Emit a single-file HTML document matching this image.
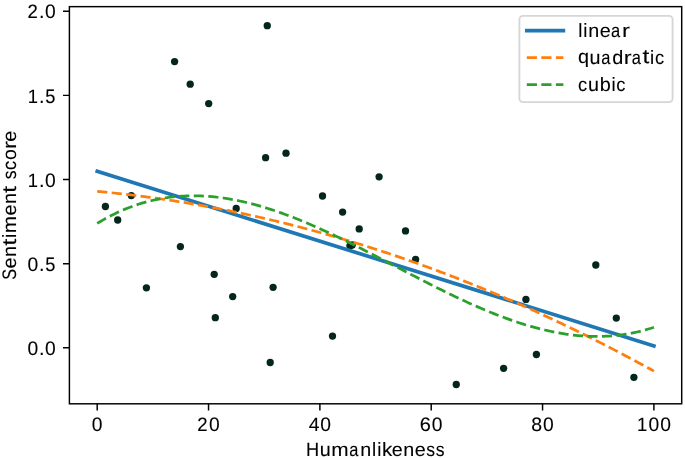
<!DOCTYPE html>
<html><head><meta charset="utf-8"><style>
html,body{margin:0;padding:0;background:#fff;}
body{width:685px;height:458px;overflow:hidden;font-family:"Liberation Sans",sans-serif;}
svg{display:block;will-change:transform;}text{text-rendering:geometricPrecision;}
</style></head><body>
<svg width="685" height="458" viewBox="0 0 685 458">
<rect width="685" height="458" fill="#fff"/>
<g fill="#04261d">
<circle cx="105.4" cy="206.5" r="3.65"/>
<circle cx="117.7" cy="220" r="3.65"/>
<circle cx="131.3" cy="195.6" r="3.65"/>
<circle cx="146.4" cy="287.8" r="3.65"/>
<circle cx="174.6" cy="61.6" r="3.65"/>
<circle cx="180.4" cy="246.6" r="3.65"/>
<circle cx="190.2" cy="84.2" r="3.65"/>
<circle cx="208.7" cy="103.6" r="3.65"/>
<circle cx="214.2" cy="274.3" r="3.65"/>
<circle cx="215.3" cy="317.7" r="3.65"/>
<circle cx="232.7" cy="296.6" r="3.65"/>
<circle cx="236.2" cy="208.5" r="3.65"/>
<circle cx="265.6" cy="157.7" r="3.65"/>
<circle cx="267.26" cy="25.7" r="3.65"/>
<circle cx="270.2" cy="362.5" r="3.65"/>
<circle cx="273.1" cy="287.3" r="3.65"/>
<circle cx="286" cy="153.2" r="3.65"/>
<circle cx="322.5" cy="196" r="3.65"/>
<circle cx="332.5" cy="336.1" r="3.65"/>
<circle cx="342.6" cy="212.1" r="3.65"/>
<circle cx="349.9" cy="245.8" r="3.65"/>
<circle cx="352.2" cy="245" r="3.65"/>
<circle cx="359.2" cy="228.9" r="3.65"/>
<circle cx="379.1" cy="176.8" r="3.65"/>
<circle cx="405.5" cy="230.9" r="3.65"/>
<circle cx="415.6" cy="259.5" r="3.65"/>
<circle cx="456.26" cy="384.5" r="3.65"/>
<circle cx="503.6" cy="368.3" r="3.65"/>
<circle cx="525.9" cy="299.4" r="3.65"/>
<circle cx="536.4" cy="354.5" r="3.65"/>
<circle cx="595.8" cy="265" r="3.65"/>
<circle cx="616.3" cy="318.1" r="3.65"/>
<circle cx="633.9" cy="377.3" r="3.65"/>
</g>
<polyline points="97.2,171.29 653.9,345.93" fill="none" stroke="#1f77b4" stroke-width="3.66" stroke-linecap="square" stroke-linejoin="round"/>
<polyline points="97.2,191.31 100,191.58 102.79,191.85 105.59,192.12 108.39,192.4 111.19,192.69 113.98,192.99 116.78,193.29 119.58,193.6 122.38,193.91 125.17,194.23 127.97,194.56 130.77,194.89 133.57,195.24 136.36,195.58 139.16,195.94 141.96,196.3 144.76,196.66 147.55,197.04 150.35,197.41 153.15,197.8 155.95,198.19 158.74,198.59 161.54,199 164.34,199.41 167.14,199.83 169.93,200.25 172.73,200.68 175.53,201.12 178.33,201.56 181.12,202.02 183.92,202.47 186.72,202.94 189.52,203.41 192.31,203.88 195.11,204.37 197.91,204.85 200.71,205.35 203.5,205.85 206.3,206.36 209.1,206.88 211.9,207.4 214.69,207.93 217.49,208.46 220.29,209 223.09,209.55 225.88,210.1 228.68,210.67 231.48,211.23 234.28,211.81 237.07,212.39 239.87,212.97 242.67,213.56 245.47,214.16 248.26,214.77 251.06,215.38 253.86,216 256.66,216.63 259.45,217.26 262.25,217.9 265.05,218.54 267.85,219.19 270.64,219.85 273.44,220.51 276.24,221.18 279.04,221.86 281.83,222.55 284.63,223.24 287.43,223.93 290.23,224.63 293.02,225.34 295.82,226.06 298.62,226.78 301.42,227.51 304.21,228.25 307.01,228.99 309.81,229.74 312.61,230.49 315.4,231.25 318.2,232.02 321,232.79 323.8,233.57 326.59,234.36 329.39,235.16 332.19,235.96 334.99,236.76 337.78,237.57 340.58,238.39 343.38,239.22 346.18,240.05 348.97,240.89 351.77,241.74 354.57,242.59 357.37,243.45 360.16,244.31 362.96,245.18 365.76,246.06 368.56,246.94 371.35,247.83 374.15,248.73 376.95,249.64 379.75,250.55 382.54,251.46 385.34,252.38 388.14,253.31 390.94,254.25 393.73,255.19 396.53,256.14 399.33,257.1 402.13,258.06 404.92,259.03 407.72,260 410.52,260.98 413.32,261.97 416.11,262.96 418.91,263.96 421.71,264.97 424.51,265.99 427.3,267.01 430.1,268.03 432.9,269.06 435.7,270.1 438.49,271.15 441.29,272.2 444.09,273.26 446.89,274.33 449.68,275.4 452.48,276.48 455.28,277.56 458.08,278.65 460.87,279.75 463.67,280.85 466.47,281.97 469.27,283.08 472.06,284.21 474.86,285.34 477.66,286.47 480.46,287.62 483.25,288.76 486.05,289.92 488.85,291.08 491.65,292.25 494.44,293.43 497.24,294.61 500.04,295.8 502.84,296.99 505.63,298.19 508.43,299.4 511.23,300.61 514.03,301.84 516.82,303.06 519.62,304.3 522.42,305.54 525.22,306.78 528.01,308.04 530.81,309.29 533.61,310.56 536.41,311.83 539.2,313.11 542,314.4 544.8,315.69 547.6,316.99 550.39,318.29 553.19,319.6 555.99,320.92 558.79,322.24 561.58,323.58 564.38,324.91 567.18,326.26 569.98,327.61 572.77,328.96 575.57,330.33 578.37,331.7 581.17,333.07 583.96,334.45 586.76,335.84 589.56,337.24 592.36,338.64 595.15,340.05 597.95,341.46 600.75,342.88 603.55,344.31 606.34,345.75 609.14,347.19 611.94,348.63 614.74,350.09 617.53,351.55 620.33,353.01 623.13,354.49 625.93,355.97 628.72,357.45 631.52,358.94 634.32,360.44 637.12,361.95 639.91,363.46 642.71,364.98 645.51,366.5 648.31,368.03 651.1,369.57 653.9,371.12" fill="none" stroke="#ff7f0e" stroke-width="2.74" stroke-linecap="butt" stroke-linejoin="round" stroke-dasharray="10.15 4.39"/>
<polyline points="97.2,223.43 100,221.73 102.79,220.1 105.59,218.53 108.39,217.02 111.19,215.56 113.98,214.16 116.78,212.81 119.58,211.53 122.38,210.29 125.17,209.12 127.97,207.99 130.77,206.92 133.57,205.9 136.36,204.94 139.16,204.03 141.96,203.16 144.76,202.35 147.55,201.59 150.35,200.88 153.15,200.22 155.95,199.61 158.74,199.04 161.54,198.52 164.34,198.05 167.14,197.63 169.93,197.25 172.73,196.92 175.53,196.63 178.33,196.38 181.12,196.18 183.92,196.02 186.72,195.91 189.52,195.83 192.31,195.8 195.11,195.81 197.91,195.85 200.71,195.94 203.5,196.07 206.3,196.23 209.1,196.44 211.9,196.67 214.69,196.95 217.49,197.26 220.29,197.61 223.09,198 225.88,198.41 228.68,198.87 231.48,199.35 234.28,199.87 237.07,200.42 239.87,201 242.67,201.62 245.47,202.26 248.26,202.93 251.06,203.64 253.86,204.37 256.66,205.13 259.45,205.92 262.25,206.73 265.05,207.58 267.85,208.45 270.64,209.34 273.44,210.26 276.24,211.2 279.04,212.17 281.83,213.16 284.63,214.17 287.43,215.21 290.23,216.26 293.02,217.34 295.82,218.44 298.62,219.56 301.42,220.7 304.21,221.85 307.01,223.03 309.81,224.22 312.61,225.43 315.4,226.66 318.2,227.9 321,229.16 323.8,230.43 326.59,231.71 329.39,233.01 332.19,234.33 334.99,235.65 337.78,236.99 340.58,238.34 343.38,239.7 346.18,241.07 348.97,242.45 351.77,243.84 354.57,245.24 357.37,246.65 360.16,248.06 362.96,249.49 365.76,250.91 368.56,252.35 371.35,253.79 374.15,255.23 376.95,256.68 379.75,258.13 382.54,259.59 385.34,261.04 388.14,262.5 390.94,263.96 393.73,265.42 396.53,266.89 399.33,268.35 402.13,269.81 404.92,271.27 407.72,272.73 410.52,274.18 413.32,275.63 416.11,277.08 418.91,278.52 421.71,279.96 424.51,281.4 427.3,282.82 430.1,284.24 432.9,285.66 435.7,287.07 438.49,288.46 441.29,289.85 444.09,291.23 446.89,292.6 449.68,293.96 452.48,295.31 455.28,296.65 458.08,297.98 460.87,299.29 463.67,300.59 466.47,301.88 469.27,303.15 472.06,304.4 474.86,305.65 477.66,306.87 480.46,308.08 483.25,309.27 486.05,310.45 488.85,311.6 491.65,312.74 494.44,313.86 497.24,314.95 500.04,316.03 502.84,317.09 505.63,318.12 508.43,319.13 511.23,320.12 514.03,321.09 516.82,322.03 519.62,322.95 522.42,323.84 525.22,324.71 528.01,325.55 530.81,326.37 533.61,327.15 536.41,327.91 539.2,328.64 542,329.35 544.8,330.02 547.6,330.66 550.39,331.27 553.19,331.85 555.99,332.4 558.79,332.92 561.58,333.4 564.38,333.86 567.18,334.27 569.98,334.65 572.77,335 575.57,335.31 578.37,335.59 581.17,335.83 583.96,336.03 586.76,336.19 589.56,336.31 592.36,336.4 595.15,336.45 597.95,336.45 600.75,336.42 603.55,336.34 606.34,336.22 609.14,336.06 611.94,335.86 614.74,335.61 617.53,335.32 620.33,334.99 623.13,334.61 625.93,334.18 628.72,333.71 631.52,333.19 634.32,332.62 637.12,332.01 639.91,331.34 642.71,330.63 645.51,329.87 648.31,329.05 651.1,328.19 653.9,327.28" fill="none" stroke="#2ca02c" stroke-width="2.74" stroke-linecap="butt" stroke-linejoin="round" stroke-dasharray="10.15 4.39"/>
<rect x="69.4" y="6.65" width="612.3" height="397.15" fill="none" stroke="#000" stroke-width="1.46" stroke-linejoin="miter"/>
<path d="M97.2 403.8v6.8M208.54 403.8v6.8M319.88 403.8v6.8M431.22 403.8v6.8M542.56 403.8v6.8M653.9 403.8v6.8M69.4 347.8h-6.4M69.4 263.67h-6.4M69.4 179.53h-6.4M69.4 95.39h-6.4M69.4 11.26h-6.4" stroke="#000" stroke-width="1.46" fill="none"/>
<g font-family="Liberation Sans, sans-serif" font-size="19.2" fill="#000" stroke="#000" stroke-width="0.1">
<g font-size="19.3"><text transform="translate(91.83 431.27) scale(0.999 1.012)">0</text></g>
<g font-size="19.3"><text transform="translate(197.31 431.2) scale(0.963 1.007)">2</text><text transform="translate(208.99 431.27) scale(0.999 1.012)">0</text></g>
<g font-size="19.3"><text transform="translate(308.69 431.2) scale(0.999 1.004)">4</text><text transform="translate(320.33 431.27) scale(0.999 1.012)">0</text></g>
<g font-size="19.3"><text transform="translate(419.85 431.27) scale(1.034 1.012)">6</text><text transform="translate(431.67 431.27) scale(0.999 1.012)">0</text></g>
<g font-size="19.3"><text transform="translate(531.32 431.27) scale(1.010 1.012)">8</text><text transform="translate(543.01 431.27) scale(0.999 1.012)">0</text></g>
<g font-size="19.3"><text transform="translate(637.05 431.2) scale(0.954 1.004)">1</text><text transform="translate(648.53 431.27) scale(0.999 1.012)">0</text><text transform="translate(660.17 431.27) scale(0.999 1.012)">0</text></g>
<g font-size="19.3"><text transform="translate(27.57 355.03) scale(0.999 1.012)">0</text><text transform="translate(38.9 354.96) scale(1.025 1.099)">.</text><text transform="translate(45.02 355.03) scale(0.999 1.012)">0</text></g>
<g font-size="19.3"><text transform="translate(27.57 270.89) scale(0.999 1.012)">0</text><text transform="translate(38.9 270.82) scale(1.025 1.099)">.</text><text transform="translate(45.25 270.89) scale(0.943 1.009)">5</text></g>
<g font-size="19.3"><text transform="translate(27.72 186.69) scale(0.954 1.004)">1</text><text transform="translate(38.9 186.69) scale(1.025 1.099)">.</text><text transform="translate(45.02 186.76) scale(0.999 1.012)">0</text></g>
<g font-size="19.3"><text transform="translate(27.72 102.55) scale(0.954 1.004)">1</text><text transform="translate(38.9 102.55) scale(1.025 1.099)">.</text><text transform="translate(45.25 102.62) scale(0.943 1.009)">5</text></g>
<g font-size="19.3"><text transform="translate(27.52 18.42) scale(0.963 1.007)">2</text><text transform="translate(38.9 18.42) scale(1.025 1.099)">.</text><text transform="translate(45.02 18.49) scale(0.999 1.012)">0</text></g>
<g><text transform="translate(305.92 455.9) scale(0.948 1.009)">H</text><text transform="translate(319.64 455.97) scale(1.027 1.017)">u</text><text transform="translate(331.24 455.9) scale(1.085 0.992)">m</text><text transform="translate(349.18 455.97) scale(0.857 0.998)">a</text><text transform="translate(360.34 455.9) scale(1.027 0.992)">n</text><text transform="translate(372.04 455.9) scale(0.974 0.999)">l</text><text transform="translate(377.13 455.9) scale(0.974 0.999)">i</text><text transform="translate(382.02 455.9) scale(1.065 0.999)">k</text><text transform="translate(391.85 455.97) scale(1.029 0.998)">e</text><text transform="translate(403.28 455.9) scale(1.027 0.992)">n</text><text transform="translate(414.69 455.97) scale(1.029 0.998)">e</text><text transform="translate(426.28 455.97) scale(0.913 1.001)">s</text><text transform="translate(435.81 455.97) scale(0.913 1.001)">s</text></g>
<g><text transform="translate(16.4 205.22) rotate(-90) translate(-74.49 0.07) scale(0.849 1.018)">S</text><text transform="translate(16.4 205.22) rotate(-90) translate(-63.17 0.07) scale(1.029 0.998)">e</text><text transform="translate(16.4 205.22) rotate(-90) translate(-51.74 0) scale(1.027 0.992)">n</text><text transform="translate(16.4 205.22) rotate(-90) translate(-40.37 -0.15) scale(1.273 1.022)">t</text><text transform="translate(16.4 205.22) rotate(-90) translate(-32.85 0) scale(0.974 0.999)">i</text><text transform="translate(16.4 205.22) rotate(-90) translate(-27.97 0) scale(1.085 0.992)">m</text><text transform="translate(16.4 205.22) rotate(-90) translate(-10.26 0.07) scale(1.029 0.998)">e</text><text transform="translate(16.4 205.22) rotate(-90) translate(1.18 0) scale(1.027 0.992)">n</text><text transform="translate(16.4 205.22) rotate(-90) translate(12.54 -0.15) scale(1.273 1.022)">t</text><text transform="translate(16.4 205.22) rotate(-90) translate(25.91 0.07) scale(0.913 1.001)">s</text><text transform="translate(16.4 205.22) rotate(-90) translate(35.16 0.07) scale(0.956 0.998)">c</text><text transform="translate(16.4 205.22) rotate(-90) translate(45.18 0.07) scale(1.013 0.998)">o</text><text transform="translate(16.4 205.22) rotate(-90) translate(56.28 0) scale(1.221 0.992)">r</text><text transform="translate(16.4 205.22) rotate(-90) translate(63.47 0.07) scale(1.029 0.998)">e</text></g>
</g>
<rect x="519.4" y="15.9" width="153.2" height="86.2" rx="3.7" fill="#fff" fill-opacity="0.8" stroke="#ccc" stroke-opacity="0.8" stroke-width="1.86"/>
<line x1="526.8" y1="30.6" x2="563.4" y2="30.6" stroke="#1f77b4" stroke-width="3.66" stroke-linecap="square"/>
<line x1="526.8" y1="57.6" x2="563.4" y2="57.6" stroke="#ff7f0e" stroke-width="2.74" stroke-dasharray="10.15 4.39"/>
<line x1="526.8" y1="84.6" x2="563.4" y2="84.6" stroke="#2ca02c" stroke-width="2.74" stroke-dasharray="10.15 4.39"/>
<g font-family="Liberation Sans, sans-serif" font-size="19.2" fill="#000" stroke="#000" stroke-width="0.1">
<g><text transform="translate(578.16 36.6) scale(0.974 0.999)">l</text><text transform="translate(583.25 36.6) scale(0.974 0.999)">i</text><text transform="translate(588.21 36.6) scale(1.027 0.992)">n</text><text transform="translate(599.63 36.67) scale(1.029 0.998)">e</text><text transform="translate(611.11 36.67) scale(0.857 0.998)">a</text><text transform="translate(622.02 36.6) scale(1.221 0.992)">r</text></g>
<g><text transform="translate(577.88 63.49) scale(1.034 0.981)">q</text><text transform="translate(589.58 63.67) scale(1.027 1.017)">u</text><text transform="translate(601.3 63.67) scale(0.857 0.998)">a</text><text transform="translate(612.28 63.67) scale(1.035 1.004)">d</text><text transform="translate(623.82 63.6) scale(1.221 0.992)">r</text><text transform="translate(631.64 63.67) scale(0.857 0.998)">a</text><text transform="translate(642.57 63.45) scale(1.273 1.022)">t</text><text transform="translate(650.09 63.6) scale(0.974 0.999)">i</text><text transform="translate(654.93 63.67) scale(0.956 0.998)">c</text></g>
<g><text transform="translate(577.93 90.67) scale(0.956 0.998)">c</text><text transform="translate(588.03 90.67) scale(1.027 1.017)">u</text><text transform="translate(599.73 90.67) scale(1.036 1.004)">b</text><text transform="translate(611.43 90.6) scale(0.974 0.999)">i</text><text transform="translate(616.27 90.67) scale(0.956 0.998)">c</text></g>
</g>
</svg>
</body></html>
